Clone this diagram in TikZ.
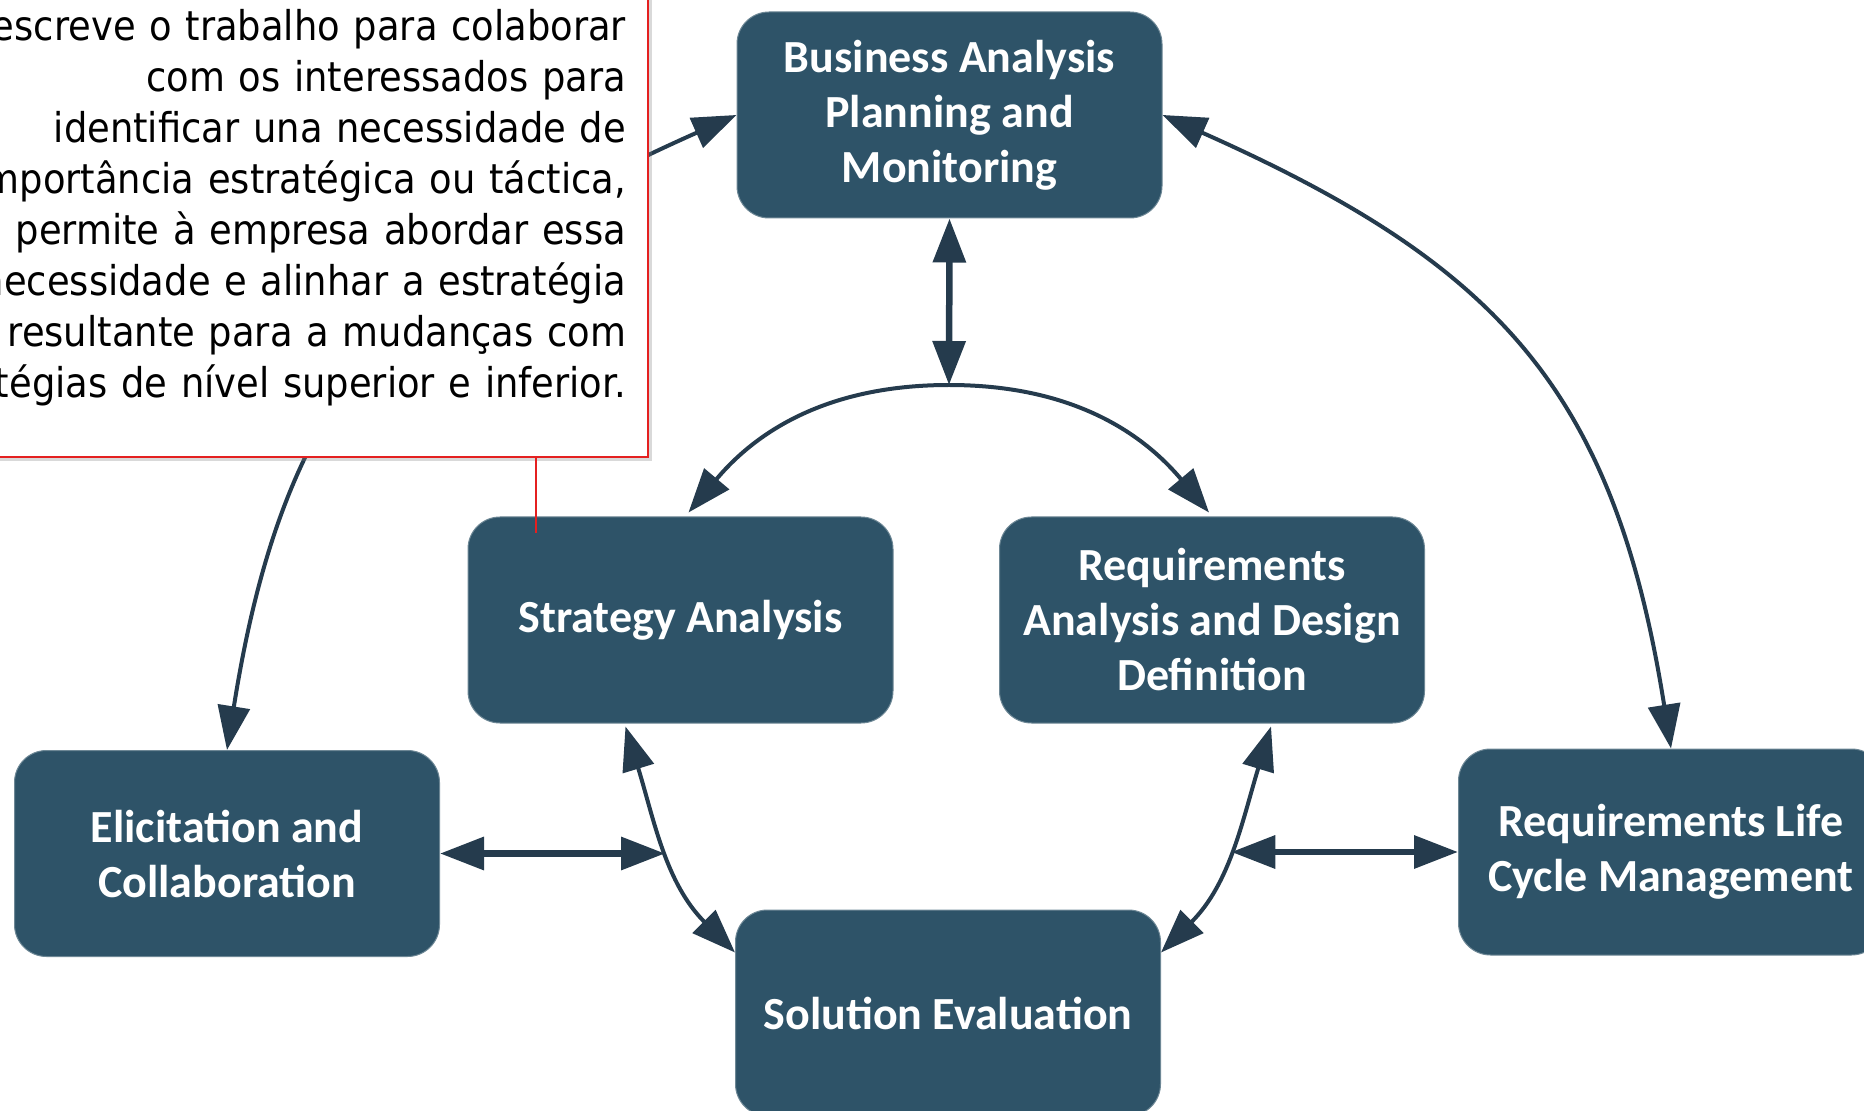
\documentclass[tikz,border=0pt]{standalone}
\usepackage{fontspec}
\usepackage{xcolor}
\usepackage{tikz}
\usetikzlibrary{
    arrows.meta,
    calc,
    shadows
}
\newfontfamily\boxfont{Carlito}
\newfontfamily\notefont{DejaVu Sans}[FakeStretch=0.9]
\definecolor{fillBox}{RGB}{46, 83, 104}
\definecolor{lineArrow}{RGB}{37, 59, 77}
\definecolor{lineNote}{RGB}{228, 32, 32}

\begin{document}
\begin{tikzpicture}[x=0.5pt, y=0.5pt, >={Triangle[length=22pt, width=16pt]},
    area/.style={rectangle, rounded corners=16pt, fill=fillBox, draw=fillBox!70!white,
        line width=0.5pt, minimum width=212.5pt, minimum height=103pt, inner sep=0pt,
        align=center, text=white, font=\boxfont\bfseries\fontsize{23pt}{27.5pt}\selectfont},
    link/.style={draw=lineArrow, line width=2pt, <->},
    bold link/.style={draw=lineArrow, line width=3.25pt, <->},
    note/.style={rectangle, draw=lineNote, line width=1pt, fill=white, text width=420pt,
        align=right, inner xsep=11pt, inner ysep=25.5pt,
        font=\notefont\fontsize{20.5pt}{25.5pt}\selectfont,
        drop shadow={shadow xshift=2pt, shadow yshift=-2pt, opacity=0.3}},
    pointer/.style={draw=lineNote, line width=1pt}]
        \useasboundingbox (0,0) rectangle (1864,1110);
        \clip (0,0) rectangle (1864,1110);

        % ノード
        \node[area] (bapm) at (949.5, 995) {Business Analysis\\Planning and\\Monitoring};
        \node[area] (strat) at (680.5, 490) {Strategy Analysis};
        \node[area] (radd) at (1212, 490) {Requirements\\Analysis and Design\\Definition};
        \node[area] (elic) at (227, 256.5) {Elicitation and\\Collaboration};
        \node[area] (rlcm) at (1671, 258) {Requirements Life\\Cycle Management};
        \node[area] (solev) at (948, 97) {Solution Evaluation};

        % 内側の輪
        \coordinate (arctop) at (949, 725);
        \draw[bold link] (bapm.south) -- (arctop);
        \draw[link] ($(strat.north)+(8,4)$) to[out=50, in=180] (arctop)
            to[out=0, in=130] ($(radd.north)+(-3,4)$);
        \draw[link] ($(strat.south)+(-55,-3)$) to[out=-73, in=135] coordinate[pos=0.5] (lmeet)
            ($(solev.north west)+(0,-43)$);
        \draw[link] ($(radd.south)+(59,-3)$) to[out=-107, in=45] coordinate[pos=0.5] (rmeet)
            ($(solev.north east)+(0,-43)$);
        \draw[bold link] (elic.east) -- (elic.east -| lmeet);
        \draw[bold link] (rlcm.west) -- (rlcm.west -| rmeet);

        % 外側の輪
        \draw[link] (bapm.east) to[out=-24, in=99, looseness=1.15] (rlcm.north);
        \draw[link] (bapm.west) to[out=204, in=81, looseness=1.15] (elic.north);

        % 説明
        \node[note, anchor=south east] (note) at (649, 652) {Descreve o trabalho para colaborar\hspace*{0.29em}\\
            com os interessados para\\
            identificar una necessidade de\hspace*{0.29em}\\
            importância estratégica ou táctica,\\
            permite à empresa abordar essa\\
            necessidade e alinhar a estratégia\hspace*{0.29em}\\
            resultante para a mudanças com\\
            estratégias de nível superior e inferior.};
        \coordinate (ptr) at (536, 577);
        \draw[pointer] (note.south -| ptr) -- (ptr);
    \end{tikzpicture}
\end{document}
